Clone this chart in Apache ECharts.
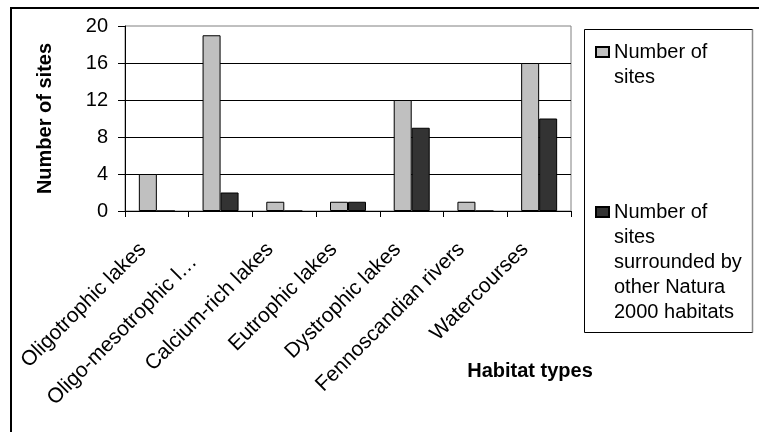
<!DOCTYPE html>
<html>
<head>
<meta charset="utf-8">
<script src="https://cdn.jsdelivr.net/npm/echarts@6/dist/echarts.min.js"></script>
<style>
  html, body { margin: 0; padding: 0; background: #fff; }
  #chart { width: 759px; height: 432px; }
</style>
</head>
<body>
<div id="chart"></div>
<script>
// Habitat types along the category axis
var categories = [
  'Oligotrophic lakes',
  'Oligo-mesotrophic l\u2026',
  'Calcium-rich lakes',
  'Eutrophic lakes',
  'Dystrophic lakes',
  'Fennoscandian rivers',
  'Watercourses'
];

// Series values
var numberOfSites = [4, 19, 1, 1, 12, 1, 16];
var sitesSurrounded = [0, 2, 0, 1, 9, 0, 10];

// Series names (legend text, wrapped)
var seriesNames = [
  'Number of\nsites',
  'Number of\nsites\nsurrounded by\nother Natura\n2000 habitats'
];

// Value axis ticks
var yTicks = [0, 4, 8, 12, 16, 20];

var FONT = '"Liberation Sans", Arial, sans-serif';
var LH = 25;

// Legend text is middle-aligned on its swatch; blank lines on top keep the
// swatch level with the first line of the wrapped name.
function legendText(name) {
  var lines = name.split('\n').length;
  return new Array(lines).join('\n') + name;
}

// Category labels: the truncated one sits a little further out.
var categoryData = categories.map(function (c) {
  return c.indexOf('\u2026') >= 0
    ? { value: c, textStyle: { padding: [0, 38, 0, 0] } }
    : c;
});

function legendFor(name, top) {
  return {
    orient: 'vertical', left: 595, top: top, padding: 0,
    itemWidth: 13, itemHeight: 10, itemGap: 0,
    icon: 'rect',
    data: [name],
    formatter: legendText,
    textStyle: { fontSize: 20, lineHeight: LH, color: '#000', fontFamily: FONT }
  };
}

var chart = echarts.init(document.getElementById('chart'), null, { renderer: 'canvas' });

chart.setOption({
  backgroundColor: '#ffffff',
  animation: false,
  textStyle: { fontFamily: FONT },
  grid: {
    left: 125, top: 26, right: 188, bottom: 221,
    show: true, borderColor: '#808080', borderWidth: 1, backgroundColor: 'transparent'
  },
  legend: [
    legendFor(seriesNames[0], 14.5),
    legendFor(seriesNames[1], 99.5)
  ],
  xAxis: {
    type: 'category',
    data: categoryData,
    name: 'Habitat types',
    nameLocation: 'middle',
    nameGap: 150,
    nameMoveOverlap: false,
    nameTextStyle: { fontSize: 20, fontWeight: 'bold', color: '#000', padding: [0, 0, 0, 364], fontFamily: FONT },
    axisLine: { show: true, lineStyle: { color: '#000', width: 1 } },
    axisTick: { show: true, alignWithLabel: false, length: 6, lineStyle: { color: '#000' } },
    axisLabel: {
      rotate: 45, interval: 0, margin: 21, fontSize: 21, color: '#000', fontFamily: FONT,
      padding: [0, 20, 0, 0]
    },
    splitLine: { show: false }
  },
  yAxis: {
    type: 'value',
    min: 0, max: 20, interval: 4,
    name: 'Number of sites',
    nameLocation: 'middle',
    nameRotate: 90,
    nameGap: 70,
    nameMoveOverlap: false,
    nameTextStyle: { fontSize: 20, fontWeight: 'bold', color: '#000', fontFamily: FONT },
    axisLine: { show: true, lineStyle: { color: '#000', width: 1 } },
    axisTick: { show: true, length: 7, lineStyle: { color: '#000' } },
    axisLabel: {
      margin: 17, fontSize: 20, color: '#000', fontFamily: FONT,
      formatter: function (v) { return yTicks.indexOf(v) >= 0 ? String(v) : ''; }
    },
    splitLine: { show: true, showMaxLine: false, lineStyle: { color: '#000', width: 1 } }
  },
  series: [
    {
      name: seriesNames[0],
      type: 'bar',
      data: numberOfSites,
      barWidth: 18,
      barGap: '0%',
      itemStyle: { color: '#C0C0C0', borderColor: '#000', borderWidth: 1 }
    },
    {
      name: seriesNames[1],
      type: 'bar',
      data: sitesSurrounded,
      barWidth: 18,
      barGap: '0%',
      itemStyle: { color: '#333333', borderColor: '#000', borderWidth: 1 }
    }
  ],
  graphic: [
    {
      type: 'rect', silent: true,
      shape: { x: 11, y: 8, width: 800, height: 500 },
      style: { fill: 'none', stroke: '#000', lineWidth: 2 }
    },
    {
      type: 'rect', silent: true,
      shape: { x: 584.5, y: 29.5, width: 168, height: 303 },
      style: { fill: 'none', stroke: '#000', lineWidth: 1 }
    },
    {
      type: 'line', silent: true,
      shape: { x1: 752.5, y1: 29.5, x2: 752.5, y2: 332.5 },
      style: { stroke: '#8a8a8a', lineWidth: 1.5 }
    }
  ]
});
</script>
</body>
</html>
